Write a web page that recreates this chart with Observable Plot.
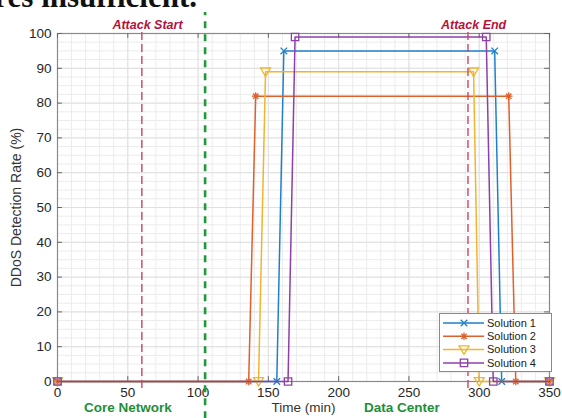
<!DOCTYPE html>
<html><head><meta charset="utf-8">
<script src="https://cdn.jsdelivr.net/npm/d3@7"></script>
<script src="https://cdn.jsdelivr.net/npm/@observablehq/plot@0.6"></script>
<style>
html,body{margin:0;padding:0;background:#fff;}
#wrap{position:relative;width:562px;height:418px;overflow:hidden;font-family:"Liberation Sans",Arial,sans-serif;}
#legend{position:absolute;left:439px;top:313px;}
svg{overflow:visible;}
</style></head><body><div id="wrap"></div>
<script>
// ---- data ----
const series = ["Solution 1", "Solution 2", "Solution 3", "Solution 4"];
const times1 = [0, 156, 161, 311, 316, 350];
const rate1  = [0, 0, 95, 95, 0, 0];
const times2 = [0, 136, 141, 321, 326, 350];
const rate2  = [0, 0, 82, 82, 0, 0];
const times3 = [0, 143, 148, 296, 300, 350];
const rate3  = [0, 0, 89, 89, 0, 0];
const times4 = [0, 164, 169, 305, 310, 350];
const rate4  = [0, 0, 99, 99, 0, 0];
const xTicks = [0, 50, 100, 150, 200, 250, 300, 350];
const yTicks = [0, 10, 20, 30, 40, 50, 60, 70, 80, 90, 100];
const eventTimes = [60, 292];
const eventLabels = ["Attack Start", "Attack End"];
const eventLabelTimes = [64, 296];
const boundaryTime = [105];
const regionLabels = ["Core Network", "Data Center"];
const regionLabelTimes = [50, 245];
const xTitle = "Time (min)";
const yTitle = "DDoS Detection Rate (%)";
const pageText = "res insufficient.";

const colors = ["#1f80c9", "#e0602c", "#f1b52c", "#8e40a8"];
const T = [times1, times2, times3, times4];
const R = [rate1, rate2, rate3, rate4];

const syms = [
  {draw(c){const a=3.3;c.moveTo(-a,-a);c.lineTo(a,a);c.moveTo(-a,a);c.lineTo(a,-a);}},
  {draw(c){const a=3.8,b=2.7;c.moveTo(-a,0);c.lineTo(a,0);c.moveTo(0,-a);c.lineTo(0,a);c.moveTo(-b,-b);c.lineTo(b,b);c.moveTo(-b,b);c.lineTo(b,-b);}},
  {draw(c){c.moveTo(-5,-3.8);c.lineTo(5,-3.8);c.lineTo(0,4.6);c.closePath();}},
  {draw(c){c.moveTo(-3.7,-3.7);c.lineTo(3.7,-3.7);c.lineTo(3.7,3.7);c.lineTo(-3.7,3.7);c.closePath();}}
];

const data = series.map((s, i) => T[i].map((t, j) => ({series: s, time: t, rate: R[i][j]})));
const minorX = d3.range(0, 351, 10);
const minorY = d3.range(0, 100.1, 2.5);

const seriesMarks = series.flatMap((s, i) => [
  Plot.line(data[i], {x: "time", y: "rate", stroke: colors[i], strokeWidth: 1.5}),
  Plot.dot(data[i], {x: "time", y: "rate", symbol: syms[i], stroke: colors[i], fill: "none", strokeWidth: 1.3, r: 4})
]);

const chart = Plot.plot({
  width: 562, height: 418,
  marginLeft: 57, marginRight: 13, marginTop: 33, marginBottom: 37,
  style: {fontFamily: '"Liberation Sans", Arial, sans-serif', fontSize: "13px", color: "#262626", background: "#fff", overflow: "visible"},
  x: {domain: [0, 350]},
  y: {domain: [0, 100]},
  marks: [
    Plot.ruleX(minorX, {stroke: "#ececec", strokeWidth: 1}),
    Plot.ruleY(minorY, {stroke: "#ececec", strokeWidth: 1}),
    Plot.ruleX(xTicks, {stroke: "#e0e0e0", strokeWidth: 1}),
    Plot.ruleY(yTicks, {stroke: "#e0e0e0", strokeWidth: 1}),
    Plot.frame({stroke: "#8a8a8a", strokeWidth: 1.2}),
    Plot.ruleX(xTicks, {y1: 0, y2: 1.4, stroke: "#666"}),
    Plot.ruleX(xTicks, {y1: 98.6, y2: 100, stroke: "#666"}),
    Plot.ruleY(yTicks, {x1: 0, x2: 3.5, stroke: "#666"}),
    Plot.ruleY(yTicks, {x1: 346.5, x2: 350, stroke: "#666"}),
    Plot.axisX({ticks: xTicks, tickSize: 0, tickPadding: 6, label: null, fontSize: 13.5}),
    Plot.axisY({ticks: yTicks, tickSize: 0, tickPadding: 6, label: null, fontSize: 13.5}),
    ...seriesMarks,
    Plot.ruleX(eventTimes, {y1: -2, y2: 101, stroke: "#cc4466", strokeWidth: 1.4, strokeDasharray: "8,4"}),
    Plot.ruleX(boundaryTime, {y1: -10.7, y2: 106, stroke: "#1f9a3a", strokeWidth: 2.6, strokeDasharray: "7,6"}),
    Plot.text(eventLabelTimes, {x: d => d, text: (d, i) => eventLabels[i], frameAnchor: "top", dy: -13, fill: "#b5123b", fontWeight: "bold", fontStyle: "italic", fontSize: 12.5}),
    Plot.text(regionLabelTimes, {x: d => d, text: (d, i) => regionLabels[i], frameAnchor: "bottom", dy: 30, fill: "#1e8f38", fontWeight: "bold", fontSize: 13.5}),
    Plot.text([xTitle], {text: d => d, frameAnchor: "bottom", dy: 30, fill: "#333", fontSize: 13.5}),
    Plot.text([yTitle], {text: d => d, frameAnchor: "left", textAnchor: "middle", dx: -41, rotate: -90, fill: "#333", fontSize: 14})
  ]
});

const wrap = document.getElementById("wrap");
wrap.appendChild(chart);

// cut-off caption text from the page above the figure
d3.select(chart).append("text")
  .attr("x", 197).attr("y", 7).attr("text-anchor", "end")
  .attr("font-family", '"Liberation Serif", "Times New Roman", serif')
  .attr("font-size", 31).attr("font-weight", "bold").attr("fill", "#111")
  .text(pageText);

// legend
const lg = d3.select(wrap).append("svg").attr("id", "legend").attr("width", 113).attr("height", 59);
lg.append("rect").attr("x", 0.5).attr("y", 0.5).attr("width", 112).attr("height", 58).attr("fill", "#fff").attr("stroke", "#8a8a8a");
series.forEach((s, i) => {
  const cy = 10 + i * 13.3;
  const g = lg.append("g");
  g.append("line").attr("x1", 4).attr("x2", 45).attr("y1", cy).attr("y2", cy).attr("stroke", colors[i]).attr("stroke-width", 1.5);
  g.append("path").attr("transform", `translate(25,${cy})`).attr("d", d3.symbol(syms[i], 50)()).attr("stroke", colors[i]).attr("fill", "none").attr("stroke-width", 1.3);
  g.append("text").attr("x", 48).attr("y", cy).attr("dy", "0.35em").attr("font-size", 11).attr("fill", "#222")
    .attr("font-family", '"Liberation Sans", Arial, sans-serif').text(s);
});
</script></body></html>
